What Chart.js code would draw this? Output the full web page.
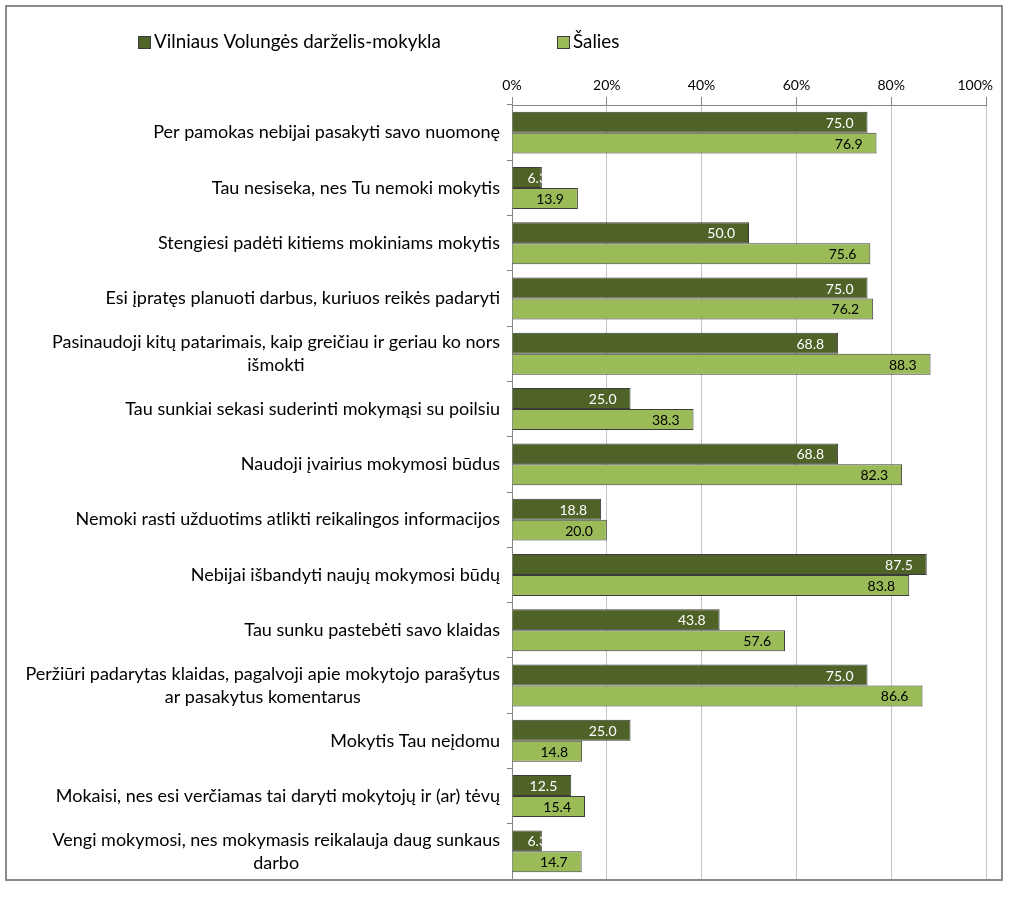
<!DOCTYPE html>
<html>
<head>
<meta charset="utf-8">
<script src="https://cdn.jsdelivr.net/npm/chart.js@4.4.1/dist/chart.umd.min.js"></script>
<style>
  html, body { margin: 0; padding: 0; background: #fff; }
  #frame {
    position: absolute;
    left: 5px;
    top: 5px;
    width: 994px;
    height: 872px;
    border: 2px solid #8a8a8a;
    background: #fff;
  }
  canvas { display: block; }
</style>
</head>
<body>
<div id="frame"><canvas id="chart" width="994" height="872"></canvas></div>
<script>
const categories = [
  'Per pamokas nebijai pasakyti savo nuomonę',
  'Tau nesiseka, nes Tu nemoki mokytis',
  'Stengiesi padėti kitiems mokiniams mokytis',
  'Esi įpratęs planuoti darbus, kuriuos reikės padaryti',
  ['Pasinaudoji kitų patarimais, kaip greičiau ir geriau ko nors', 'išmokti'],
  'Tau sunkiai sekasi suderinti mokymąsi su poilsiu',
  'Naudoji įvairius mokymosi būdus',
  'Nemoki rasti užduotims atlikti reikalingos informacijos',
  'Nebijai išbandyti naujų mokymosi būdų',
  'Tau sunku pastebėti savo klaidas',
  ['Peržiūri padarytas klaidas, pagalvoji apie mokytojo parašytus', 'ar pasakytus komentarus'],
  'Mokytis Tau neįdomu',
  'Mokaisi, nes esi verčiamas tai daryti mokytojų ir (ar) tėvų',
  ['Vengi mokymosi, nes mokymasis reikalauja daug sunkaus', 'darbo'],
];

const schoolName = 'Vilniaus Volungės darželis-mokykla';
const countryName = 'Šalies';

const schoolValues = [75.0, 6.3, 50.0, 75.0, 68.8, 25.0, 68.8, 18.8, 87.5, 43.8, 75.0, 25.0, 12.5, 6.3];
const countryValues = [76.9, 13.9, 75.6, 76.2, 88.3, 38.3, 82.3, 20.0, 83.8, 57.6, 86.6, 14.8, 15.4, 14.7];

const xTicks = [0, 20, 40, 60, 80, 100];

const DARK = '#4f6228';
const LIGHT = '#9bbb59';
const BAR_EDGE = '#3b3b3b';
const AXIS = '#868686';
const GRID = '#c4c4c4';
const FONT = 'Lato';
const LINE_H = 23;

// category labels: lines centred on each other, block right-aligned to the axis
const yLabels = {
  id: 'yLabels',
  afterDraw(chart) {
    const { ctx } = chart;
    const y = chart.scales.y;
    ctx.save();
    ctx.font = `18px ${FONT}`;
    ctx.fillStyle = '#000';
    ctx.textAlign = 'center';
    ctx.textBaseline = 'middle';
    const right = y.right - 12;
    categories.forEach((label, i) => {
      const lines = Array.isArray(label) ? label : [label];
      const w = Math.max(...lines.map((l) => ctx.measureText(l).width));
      const cx = right - w / 2;
      const cy = y.getPixelForValue(i);
      lines.forEach((line, j) => {
        ctx.fillText(line, cx, cy + (j - (lines.length - 1) / 2) * LINE_H);
      });
    });
    ctx.restore();
  },
};

// percent labels on the top axis, last one kept inside the frame
const xLabels = {
  id: 'xLabels',
  afterDraw(chart) {
    const { ctx } = chart;
    const x = chart.scales.x;
    ctx.save();
    ctx.font = `14px ${FONT}`;
    ctx.fillStyle = '#000';
    ctx.textAlign = 'center';
    ctx.textBaseline = 'middle';
    const maxRight = chart.chartArea.right + 7;
    xTicks.forEach((v) => {
      const text = `${v}%`;
      const w = ctx.measureText(text).width;
      const px = Math.min(x.getPixelForValue(v), maxRight - w / 2);
      ctx.fillText(text, px, 78);
    });
    ctx.restore();
  },
};

// value labels inside the bar end, clipped to the bar like Excel does
const barValues = {
  id: 'barValues',
  afterDatasetsDraw(chart) {
    const { ctx } = chart;
    ctx.save();
    ctx.font = `14px ${FONT}`;
    ctx.textBaseline = 'middle';
    ctx.textAlign = 'left';
    chart.data.datasets.forEach((ds, di) => {
      const meta = chart.getDatasetMeta(di);
      ctx.fillStyle = di === 0 ? '#ffffff' : '#000000';
      meta.data.forEach((bar, i) => {
        const { x, y, base, height } = bar.getProps(['x', 'y', 'base', 'height'], true);
        const text = ds.data[i].toFixed(1);
        const w = ctx.measureText(text).width;
        const tx = Math.max(base + 15, x - 14 - w);
        ctx.save();
        ctx.beginPath();
        ctx.rect(base, y - height / 2, x - base, height);
        ctx.clip();
        ctx.fillText(text, tx, y + 1);
        ctx.restore();
      });
    });
    ctx.restore();
  },
};

const legendBoxes = {
  id: 'legendBoxes',
  afterDraw(chart) {
    const { ctx } = chart;
    const items = [
      { x: 131, color: DARK, text: schoolName },
      { x: 550, color: LIGHT, text: countryName },
    ];
    ctx.save();
    ctx.font = `18.8px ${FONT}`;
    ctx.textBaseline = 'middle';
    ctx.textAlign = 'left';
    items.forEach((item) => {
      ctx.fillStyle = item.color;
      ctx.fillRect(item.x, 29, 13, 13);
      ctx.strokeStyle = BAR_EDGE;
      ctx.lineWidth = 1;
      ctx.strokeRect(item.x + 0.5, 29.5, 12, 12);
      ctx.fillStyle = '#000';
      ctx.fillText(item.text, item.x + 16, 35);
    });
    ctx.restore();
  },
};

new Chart(document.getElementById('chart'), {
  type: 'bar',
  data: {
    labels: categories.map((c) => (Array.isArray(c) ? c.join(' ') : c)),
    datasets: [
      {
        label: schoolName,
        data: schoolValues,
        backgroundColor: DARK,
        borderColor: BAR_EDGE,
        borderWidth: 1,
      },
      {
        label: countryName,
        data: countryValues,
        backgroundColor: LIGHT,
        borderColor: BAR_EDGE,
        borderWidth: 1,
      },
    ],
  },
  options: {
    indexAxis: 'y',
    responsive: false,
    animation: false,
    devicePixelRatio: 1,
    categoryPercentage: 0.758,
    barPercentage: 1,
    layout: { padding: { left: 0, right: 15, top: 0, bottom: 0 } },
    plugins: {
      legend: { display: false },
      tooltip: { enabled: false },
    },
    scales: {
      x: {
        position: 'top',
        min: 0,
        max: 100,
        afterBuildTicks: (scale) => {
          scale.ticks = xTicks.map((v) => ({ value: v }));
        },
        ticks: { display: false },
        grid: {
          color: GRID,
          tickColor: AXIS,
          tickLength: 8,
          lineWidth: 1,
        },
        border: { color: AXIS, width: 1 },
        afterFit: (scale) => {
          scale.height = 98;
          scale.paddingLeft = 0;
          scale.paddingRight = 0;
        },
      },
      y: {
        ticks: { display: false },
        grid: {
          drawOnChartArea: false,
          drawTicks: true,
          tickLength: 5,
          tickColor: AXIS,
          offset: true,
        },
        border: { color: AXIS, width: 1 },
        afterFit: (scale) => { scale.width = 505; },
      },
    },
  },
  plugins: [yLabels, xLabels, barValues, legendBoxes],
});
</script>
</body>
</html>
